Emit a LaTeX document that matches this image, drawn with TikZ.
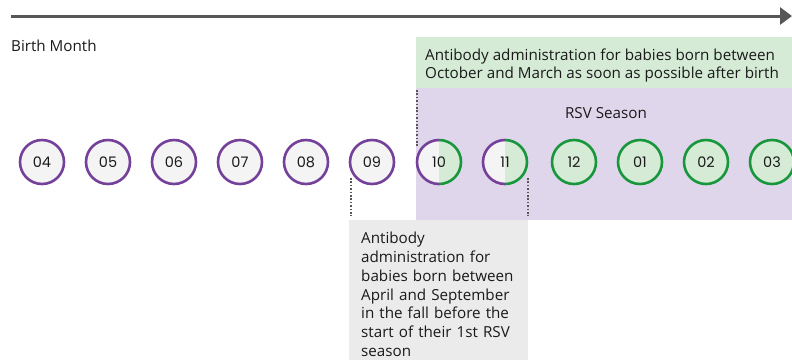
\documentclass[tikz,border=0pt]{standalone}
\usepackage{fontspec}
\setmainfont{Open Sans}
\newfontfamily\digitfont{Poppins}
\usetikzlibrary{arrows.meta}
\definecolor{cpurple}{HTML}{74409A}
\definecolor{cgreen}{HTML}{17963C}
\definecolor{cgreenlt}{HTML}{D5EBD6}
\definecolor{cpurplelt}{HTML}{DFD6EC}
\definecolor{cgraybox}{HTML}{EBEBEB}
\definecolor{cgraylt}{HTML}{F4F4F4}
\definecolor{cline}{HTML}{575757}
\definecolor{ctext}{HTML}{1A1A1A}
\begin{document}
\begin{tikzpicture}[x=1pt,y=-1pt,
  every node/.style={text=ctext},
  mpurple/.style={circle,draw=cpurple,line width=2.6pt,fill=cgraylt,minimum size=44pt,inner sep=0pt,font=\digitfont\fontsize{14.5}{14.5}\selectfont},
  mgreen/.style={circle,draw=cgreen,line width=2.6pt,fill=cgreenlt,minimum size=44pt,inner sep=0pt,font=\digitfont\fontsize{14.5}{14.5}\selectfont},
  mhalf/.style={circle,minimum size=44pt,inner sep=0pt,font=\digitfont\fontsize{14.5}{14.5}\selectfont},
  dotline/.style={draw=cline,line width=1.8pt,dash pattern=on 1.6pt off 1.8pt},
  bodytext/.style={font=\fontsize{15.2}{18.8}\selectfont}]
\useasboundingbox (0,0) rectangle (792,360);
% timeline arrow
\coordinate (tlstart) at (11,16);
\coordinate (tlend) at (792,16);
\draw[cline,line width=3pt,-{Triangle[length=12pt,width=17pt]}] (tlstart) -- (tlend);
\node[bodytext,anchor=west,inner sep=0pt] (bm) at (11,46) {Birth Month};
% boxes
\fill[cgreenlt] (416,37) rectangle (792,88);
\fill[cpurplelt] (416,88) rectangle (792,220);
\node[bodytext,align=left,anchor=west,inner sep=0pt] (green) at (425,65.5) {Antibody administration for babies born between\\October and March as soon as possible after birth};
\node[bodytext] (rsv) at (606,113) {RSV Season};
% gray box
\fill[cgraybox] (349,220) rectangle (528,360);
\node[bodytext,anchor=north west,align=left,inner sep=0pt,text width=175pt] (gray) at (361,232) {Antibody\\administration for\\babies born between\\April and September\\in the fall before the\\start of their 1st RSV\\season};
% circles
\foreach \n/\x in {04/42,05/108,06/174,07/240,08/306,09/372}{
  \node[mpurple] (m\n) at (\x,162) {\n};
}
\foreach \n/\x in {12/574,01/640,02/706,03/772}{
  \node[mgreen] (m\n) at (\x,162) {\n};
}
\foreach \n/\x in {10/439,11/505}{
  \fill[cgraylt] (\x,162) ++(90:22) arc[start angle=90,end angle=270,radius=22] -- cycle;
  \fill[cgreenlt] (\x,162) ++(90:22) arc[start angle=90,end angle=-90,radius=22] -- cycle;
  \draw[cpurple,line width=2.6pt] (\x,162) ++(90:22) arc[start angle=90,end angle=270,radius=22];
  \draw[cgreen,line width=2.6pt] (\x,162) ++(90:22) arc[start angle=90,end angle=-90,radius=22];
  \node[mhalf] (m\n) at (\x,162) {\n};
}
% dotted connectors
\coordinate (d1a) at (351,178);
\coordinate (d1b) at (351,216);
\draw[dotline] (d1a) -- (d1b);
\coordinate (d2a) at (528,178);
\coordinate (d2b) at (528,216);
\draw[dotline] (d2a) -- (d2b);
\coordinate (d3a) at (417,90);
\coordinate (d3b) at (417,146);
\draw[dotline] (d3a) -- (d3b);
\end{tikzpicture}
\end{document}
